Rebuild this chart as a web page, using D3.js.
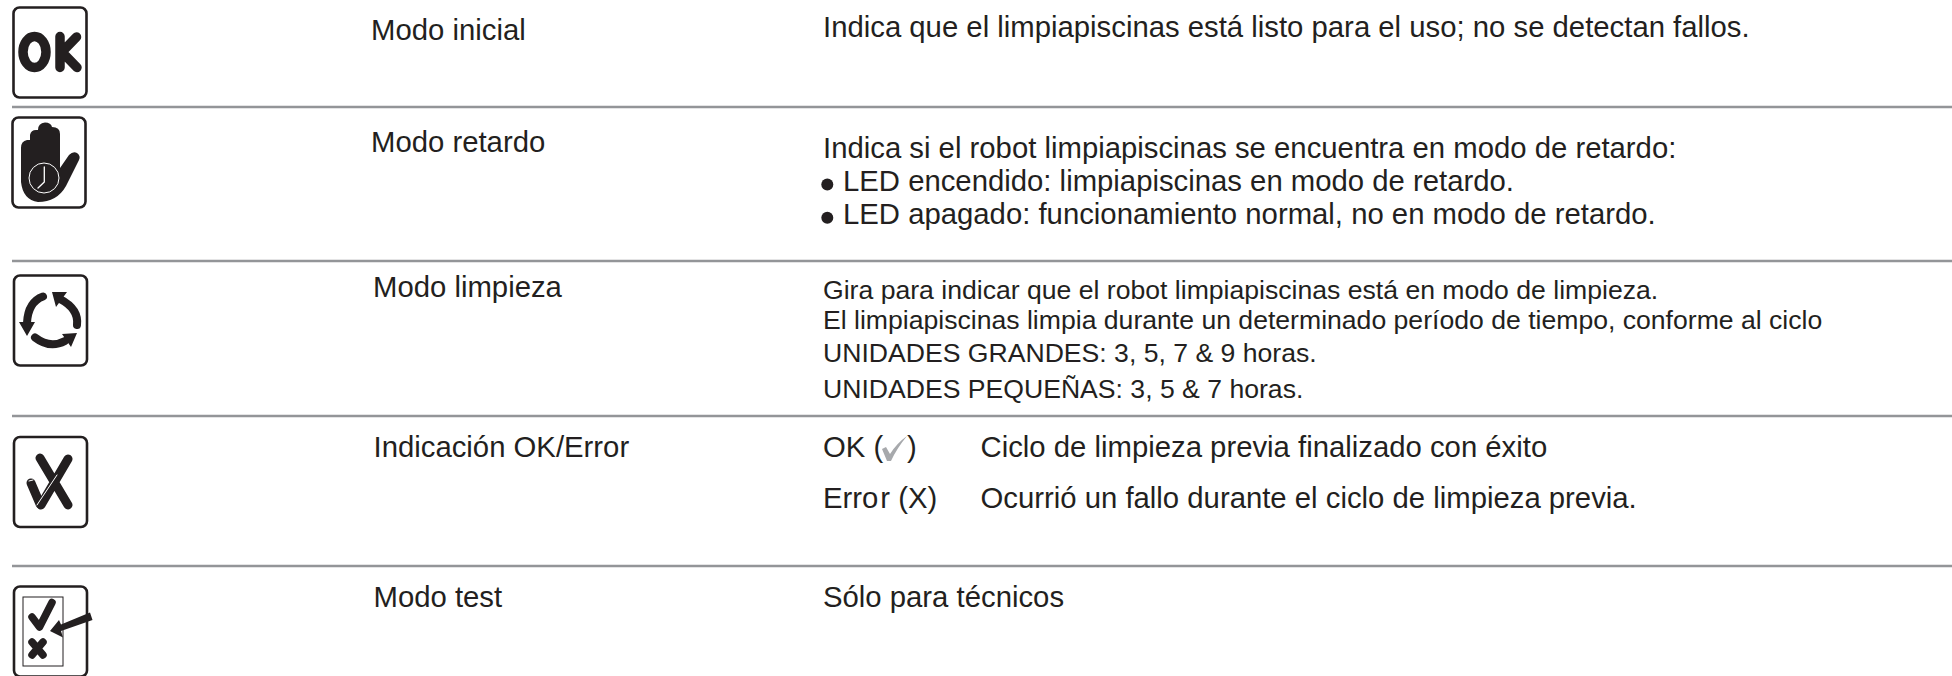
<!DOCTYPE html>
<html><head><meta charset="utf-8">
<script src="https://cdnjs.cloudflare.com/ajax/libs/d3/7.8.5/d3.min.js"></script>
<style>html,body{margin:0;padding:0;background:#fff}svg{display:block}text{font-family:"Liberation Sans",Arial,sans-serif;fill:#231f20}</style>
</head><body><svg id="c" width="1952" height="676"></svg>
<script>
const modes = ["Modo inicial","Modo retardo","Modo limpieza","Indicación OK/Error","Modo test"];
const descInicial = ["Indica que el limpiapiscinas está listo para el uso; no se detectan fallos."];
const descRetardo = ["Indica si el robot limpiapiscinas se encuentra en modo de retardo:","LED encendido: limpiapiscinas en modo de retardo.","LED apagado: funcionamiento normal, no en modo de retardo."];
const descLimpieza = ["Gira para indicar que el robot limpiapiscinas está en modo de limpieza.","El limpiapiscinas limpia durante un determinado período de tiempo, conforme al ciclo","UNIDADES GRANDES: 3, 5, 7 & 9 horas.","UNIDADES PEQUEÑAS: 3, 5 & 7 horas."];
const descIndicacion = ["Ciclo de limpieza previa finalizado con éxito","Ocurrió un fallo durante el ciclo de limpieza previa."];
const descTest = ["Sólo para técnicos"];

const svg = d3.select("#c");
const ink = "#231f20", rule = "#939598", big = 29.3, small = 26.6;
const T = (x,y,s,fs) => svg.append("text").attr("x",x).attr("y",y).attr("font-size",fs).text(s);
const P = (d,o={}) => svg.append("path").attr("d",d).attr("fill",o.fill||"none").attr("stroke",o.stroke||"none")
  .attr("stroke-width",o.w||0).attr("stroke-linecap",o.cap||"round").attr("stroke-linejoin","round");

[107,261,416,566].forEach(y => svg.append("line").attr("x1",12).attr("x2",1952).attr("y1",y).attr("y2",y).attr("stroke",rule).attr("stroke-width",2.5));

const labelX=[371,371,373,373.5,373.5], labelY=[40,152,297,457,607];
modes.forEach((m,i)=>T(labelX[i],labelY[i],m,big));

T(823,37,descInicial[0],big);
T(823,158,descRetardo[0],big);
T(843,191,descRetardo[1],big);
T(843,224,descRetardo[2],big);
[184.5,217.7].forEach(cy=>svg.append("circle").attr("cx",827.3).attr("cy",cy).attr("r",6).attr("fill",ink));
[299,329,362,398].forEach((y,i)=>T(823,y,descLimpieza[i],small));

T(823,457,"OK (",big); T(907,457,")",big);
P("M882 449 L886 447 L890 454 Q897 443 907 436 Q897 448 891 461 L887 461 Z",{fill:"#a7a9ac"});
const err=T(823,508,"Erro",big); err.append("tspan").attr("dx",2).text("r (X)");
T(980.5,457,descIndicacion[0],big);
T(980.5,508,descIndicacion[1],big);
T(823,607,descTest[0],big);

const box=(x,y)=>svg.append("rect").attr("x",x).attr("y",y).attr("width",73).attr("height",90).attr("rx",6).attr("fill","#fff").attr("stroke",ink).attr("stroke-width",2.6);

// OK
box(13.5,7.5);
svg.append("ellipse").attr("cx",34.5).attr("cy",52).attr("rx",11.5).attr("ry",15.5).attr("fill","none").attr("stroke",ink).attr("stroke-width",9.5);
P("M60 36.5 L60 67.5 M76.5 37 L62 52 L77 67.5",{stroke:ink,w:9.5});

// hand
box(12.5,117.5);
P("M21 148 Q21 141 27 140 L30 140 L30 135 Q31 130 36 130 L38 130 Q38 123 45 122.5 Q51 122.5 52 127 Q60 127 60 134 L60 168 L69 155 Q73 151 77 153 Q81 156 79 160 L66 186 Q57 202 38 202 Q23 200 21 182 Z",{fill:ink});
svg.append("circle").attr("cx",44).attr("cy",178).attr("r",15).attr("fill","none").attr("stroke","#fff").attr("stroke-width",1);
P("M44.3 167 L44.3 182 L38 188",{stroke:"#fff",w:1.3});

// cycle
box(14,275.5);
P("M43 296.5 Q28 302 27 323",{stroke:ink,w:8});
P("M60 299 Q79 309 77 325",{stroke:ink,w:8});
P("M35 337.5 Q50 349 65 341",{stroke:ink,w:8});
P("M19 322 L35 322 L27 336 Z M52 292 L67 292 L56 307 Z M77 333 L62 334 L71 347 Z",{fill:ink});

// OK/error
box(14,437);
P("M31 483 L40 504",{stroke:ink,w:9});
P("M68 459 L41 505 M40 458 L68 505",{stroke:ink,w:9});
P("M37 505 L57 475",{stroke:"#fff",w:1});
P("M29 481 L33 480",{stroke:"#fff",w:1});

// test
box(14,586.5);
svg.append("rect").attr("x",23).attr("y",597).attr("width",40).attr("height",69).attr("fill","none").attr("stroke",ink).attr("stroke-width",1);
P("M32 617 L39.5 627 L52 602.5 M32 642 L43 655 M43 642 L32 655",{stroke:ink,w:7.5});
P("M90 612.5 L92.5 620 L61 631 L63 637.5 L50 631 L59 620 L61 624.5 Z",{fill:ink});
</script></body></html>
